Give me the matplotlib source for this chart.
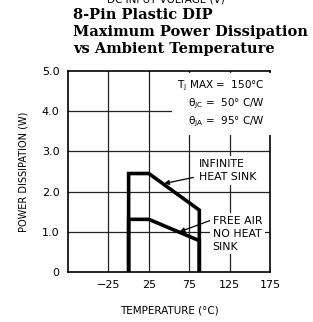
import numpy as np
import matplotlib
matplotlib.use("Agg")
import matplotlib.pyplot as plt

# curve data (temperature degC, power W)
inf_temp = [0, 0, 25, 87.5, 87.5]
inf_power = [0, 2.45, 2.45, 1.54, 0]
air_temp = [0, 0, 25, 87.5, 87.5]
air_power = [0, 1.31, 1.31, 0.78, 0]

xticks = [-25, 25, 75, 125, 175]
yticks = [0, 1, 2, 3, 4, 5]
ytick_labels = ["0", "1.0", "2.0", "3.0", "4.0", "5.0"]
xgrid = [-25, 25, 75, 125]
ygrid = [1, 2, 3, 4]

title = "8-Pin Plastic DIP\nMaximum Power Dissipation\nvs Ambient Temperature"

fig = plt.figure(figsize=(3.13, 3.22), dpi=100)
ax = fig.add_axes([0.2173, 0.1553, 0.6454, 0.6242])

ax.set_xlim(-75, 175)
ax.set_ylim(0, 5)

for x in xgrid:
    ax.axvline(x, color="#222222", lw=0.9, zorder=1)
for y in ygrid:
    ax.axhline(y, color="#222222", lw=0.9, zorder=1)

ax.plot(inf_temp, inf_power, color="black", lw=2.6, solid_joinstyle="miter", zorder=4)
ax.plot(air_temp, air_power, color="black", lw=2.6, solid_joinstyle="miter", zorder=4)

ax.set_xticks(xticks)
ax.set_yticks(yticks)
ax.set_yticklabels(ytick_labels)
ax.tick_params(length=0, labelsize=8, pad=6)
for s in ax.spines.values():
    s.set_linewidth(1.2)

ax.set_xlabel("TEMPERATURE (\u00b0C)", fontsize=7.5, labelpad=11)
ax.set_ylabel("POWER DISSIPATION (W)", fontsize=7, labelpad=10)

box = dict(facecolor="white", edgecolor="none", pad=2)
ax.text(169, 4.18,
        r"$\mathrm{T_J}$ MAX =  150$\degree$C" + "\n" +
        r"$\mathrm{\theta_{JC}}$ =  50$\degree$ C/W" + "\n" +
        r"$\mathrm{\theta_{JA}}$ =  95$\degree$ C/W",
        ha="right", va="center", fontsize=7.5, linespacing=1.4,
        bbox=dict(facecolor="white", edgecolor="none", pad=4), zorder=3)

ax.annotate("INFINITE\nHEAT SINK", xy=(44, 2.2), xytext=(87, 2.53),
            ha="left", va="center", fontsize=7.8, linespacing=1.35,
            bbox=box, zorder=3,
            arrowprops=dict(arrowstyle="-|>", color="black", lw=0.9,
                            mutation_scale=7, shrinkA=2, shrinkB=0))
ax.annotate("FREE AIR\nNO HEAT\nSINK", xy=(63, 1.0), xytext=(104, 0.95),
            ha="left", va="center", fontsize=7.8, linespacing=1.35,
            bbox=box, zorder=3,
            arrowprops=dict(arrowstyle="-|>", color="black", lw=0.9,
                            mutation_scale=7, shrinkA=0, shrinkB=0,
                            relpos=(0, 0.9)))

fig.text(0.233, 0.974, title, ha="left", va="top", fontsize=10.5,
         family="DejaVu Serif", weight="bold", linespacing=1.27)
fig.text(0.53, 0.993, "DC INPUT VOLTAGE (V)", ha="center", va="baseline",
         fontsize=7.5)

fig.savefig("out.png", dpi=100)
